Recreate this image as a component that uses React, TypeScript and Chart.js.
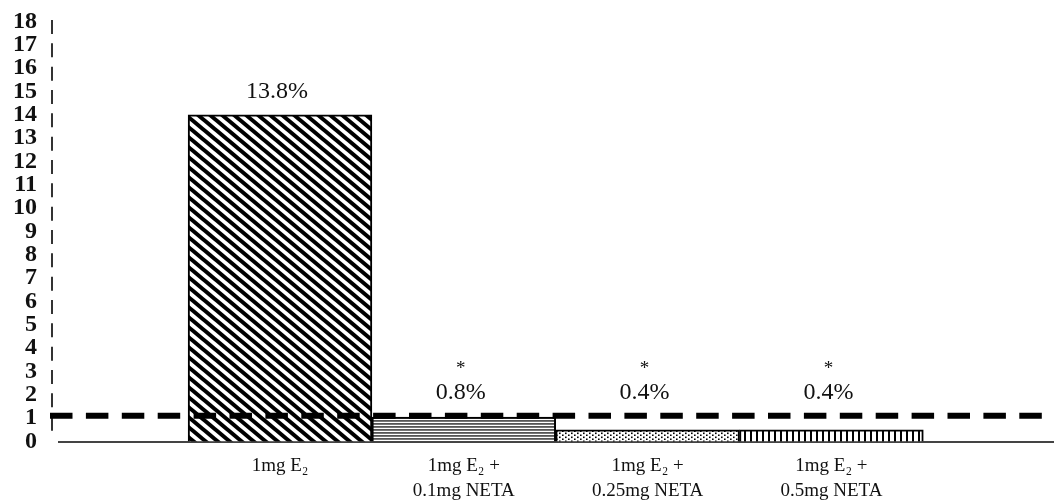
import { useEffect, useRef } from 'react';
import { Chart, registerables } from 'chart.js';

Chart.register(...registerables);

// ---- data ----
const categories: string[][] = [
  ['1mg E₂'],
  ['1mg E₂ +', '0.1mg NETA'],
  ['1mg E₂ +', '0.25mg NETA'],
  ['1mg E₂ +', '0.5mg NETA'],
];
const categoryPositions = [1, 2, 3, 4];
const barValues = [14.0, 1.05, 0.5, 0.5];
const valueLabels = ['13.8%', '0.8%', '0.4%', '0.4%'];
const significanceMarks = ['', '*', '*', '*'];
const referenceLevel = 1.1;
const yMin = 0;
const yMax = 18;

const FONT = "'Liberation Serif', 'Times New Roman', 'DejaVu Serif', serif";

function makeTile(w: number, h: number, draw: (c: CanvasRenderingContext2D) => void) {
  const cv = document.createElement('canvas');
  cv.width = w;
  cv.height = h;
  const c = cv.getContext('2d')!;
  c.fillStyle = '#ffffff';
  c.fillRect(0, 0, w, h);
  draw(c);
  return cv;
}

function makePatterns(ctx: CanvasRenderingContext2D) {
  const diag = makeTile(12, 10, (c) => {
    c.strokeStyle = '#000';
    c.lineWidth = 4;
    for (let k = -2; k <= 2; k++) {
      c.beginPath();
      c.moveTo(k * 12 - 12, -10);
      c.lineTo(k * 12 + 24, 20);
      c.stroke();
    }
  });
  const horiz = makeTile(4, 3, (c) => {
    c.fillStyle = '#555555';
    c.fillRect(0, 0, 4, 1.8);
  });
  const dots = makeTile(6, 4, (c) => {
    c.fillStyle = '#000';
    c.fillRect(1, 0.5, 1.6, 1.6);
    c.fillRect(4, 2.5, 1.6, 1.6);
  });
  const vert = makeTile(6, 4, (c) => {
    c.fillStyle = '#000';
    c.fillRect(0, 0, 2, 4);
  });
  return [diag, horiz, dots, vert].map((t) => ctx.createPattern(t, 'repeat') as CanvasPattern);
}

const overlayPlugin = {
  id: 'overlay',
  beforeDatasetsDraw(chart: any) {
    const { ctx, chartArea } = chart;
    const yScale = chart.scales.y;
    const y0 = yScale.getPixelForValue(0);
    ctx.save();
    // y axis (dashed)
    ctx.strokeStyle = '#333';
    ctx.lineWidth = 2;
    const unit = yScale.getPixelForValue(0) - yScale.getPixelForValue(1);
    ctx.setLineDash([unit * 0.6, unit * 0.4]);
    ctx.beginPath();
    ctx.moveTo(chartArea.left, chartArea.top - 1.5);
    ctx.lineTo(chartArea.left, y0 - 8);
    ctx.stroke();
    ctx.setLineDash([]);
    // x axis
    ctx.strokeStyle = '#444';
    ctx.beginPath();
    ctx.moveTo(chartArea.left + 6, y0 + 0.5);
    ctx.lineTo(chartArea.right, y0 + 0.5);
    ctx.stroke();
    ctx.restore();
  },
  afterDatasetsDraw(chart: any) {
    const { ctx, chartArea } = chart;
    const yScale = chart.scales.y;
    const refY = yScale.getPixelForValue(referenceLevel);
    ctx.save();
    // reference dashed line
    ctx.strokeStyle = '#000';
    ctx.lineWidth = 6;
    ctx.setLineDash([22.5, 13.4]);
    ctx.beginPath();
    ctx.moveTo(chartArea.left - 2, refY);
    ctx.lineTo(chartArea.right, refY);
    ctx.stroke();
    ctx.setLineDash([]);
    // value labels
    const meta = chart.getDatasetMeta(0);
    ctx.fillStyle = '#111';
    ctx.textAlign = 'center';
    ctx.textBaseline = 'middle';
    meta.data.forEach((bar: any, i: number) => {
      const top = Math.min(bar.y, refY);
      const ly = top - 23.5;
      ctx.font = `24px ${FONT}`;
      ctx.fillText(valueLabels[i], bar.x - 3, ly);
      if (significanceMarks[i]) {
        ctx.font = `19px ${FONT}`;
        ctx.fillText(significanceMarks[i], bar.x - 3, ly - 23);
      }
    });
    ctx.restore();
  },
};

export default function App() {
  const ref = useRef<HTMLCanvasElement | null>(null);
  useEffect(() => {
    const canvas = ref.current!;
    const ctx = canvas.getContext('2d')!;
    const patterns = makePatterns(ctx);
    const chart = new Chart(canvas, {
      type: 'bar',
      data: {
        datasets: [
          {
            data: categoryPositions.map((x, i) => ({ x, y: barValues[i] })),
            backgroundColor: patterns,
            borderColor: '#000',
            borderWidth: 2,
            barPercentage: 1,
            categoryPercentage: 1,
          },
        ],
      },
      options: {
        animation: false,
        responsive: false,
        devicePixelRatio: 1,
        layout: { padding: { top: 21.5, left: 0, right: 0, bottom: 0 } },
        plugins: { legend: { display: false }, tooltip: { enabled: false } },
        scales: {
          x: {
            type: 'linear',
            offset: false,
            min: -0.2405,
            max: 5.211,
            grid: { display: false, drawTicks: false },
            border: { display: false },
            afterBuildTicks: (scale: any) => {
              scale.ticks = categoryPositions.map((v) => ({ value: v }));
            },
            afterFit: (scale: any) => {
              scale.height = 62.5;
            },
            ticks: {
              autoSkip: false,
              maxRotation: 0,
              padding: 12,
              color: '#111',
              font: { family: FONT, size: 19, lineHeight: 1.3 },
              callback: (v: any) => {
                const i = categoryPositions.indexOf(Number(v));
                return i >= 0 ? categories[i] : '';
              },
            },
          },
          y: {
            min: yMin,
            max: yMax,
            grid: { display: false, drawTicks: false },
            border: { display: false },
            afterFit: (scale: any) => {
              scale.width = 52;
            },
            ticks: {
              stepSize: 1,
              autoSkip: false,
              padding: 15,
              color: '#111',
              font: { family: FONT, size: 24, weight: 'bold', lineHeight: 0.45 },
            },
          },
        },
      },
      plugins: [overlayPlugin],
    } as any);
    return () => chart.destroy();
  }, []);
  return (
    <div style={{ position: 'absolute', left: 0, top: 0, width: 1054, height: 504, background: '#fff' }}>
      <canvas ref={ref} width={1054} height={504} style={{ display: 'block' }} />
    </div>
  );
}
